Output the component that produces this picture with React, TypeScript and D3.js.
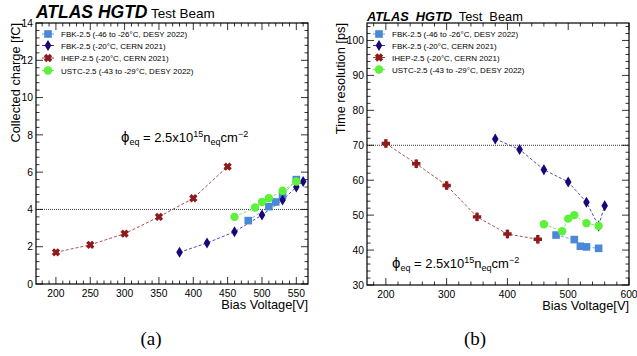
import React from "react";
import * as d3 from "d3";

// bias voltage [V] per sensor
const voltFbkDesy = [480, 510, 520, 530, 550];
const voltFbkCern = [380, 420, 460, 500, 530, 550, 560];
const voltIhep = [200, 250, 300, 350, 400, 450];
const voltUstc = [460, 490, 500, 510, 530, 550];

// collected charge [fC]
const chargeFbkDesy = [3.4, 4.15, 4.4, 4.75, 5.6];
const chargeFbkCern = [1.7, 2.2, 2.8, 3.7, 4.5, 5.2, 5.5];
const chargeIhep = [1.7, 2.1, 2.7, 3.6, 4.6, 6.3];
const chargeUstc = [3.6, 4.1, 4.4, 4.6, 5.0, 5.5];

// time resolution [ps]
const timeFbkDesy = [44.3, 43.0, 41.1, 40.9, 40.5];
const timeFbkCern = [71.8, 68.8, 63.0, 59.5, 53.7, 46.9, 52.7];
const timeIhep = [70.5, 64.7, 58.5, 49.5, 44.6, 43.1];
const timeUstc = [47.4, 45.4, 49.0, 50.0, 47.7, 46.9];
const timeErrFbkCern = [1.3, 1.3, 1.3, 1.2, 1.3, 1.5, 1.4];
const timeErrIhep = [1.3, 1.3, 1.3, 1.3, 1.3, 1.3];

const legendLabels = [
  "FBK-2.5 (-46 to -26\u00b0C, DESY 2022)",
  "FBK-2.5 (-20\u00b0C, CERN 2021)",
  "IHEP-2.5 (-20\u00b0C, CERN 2021)",
  "USTC-2.5 (-43 to -29\u00b0C, DESY 2022)",
];

const xTicksA = [200, 250, 300, 350, 400, 450, 500, 550];
const yTicksA = [0, 2, 4, 6, 8, 10, 12, 14];
const xTicksB = [200, 300, 400, 500, 600];
const yTicksB = [30, 40, 50, 60, 70, 80, 90, 100];

const colors = ["#4a88d8", "#16087a", "#8e1b1b", "#5cf23a"];
const lineColors = ["#6b9be0", "#3a34a0", "#a83a3a", "#6ee850"];
const shapes = ["square", "diamond", "x", "circle"];

const font = "Liberation Sans, Arial, sans-serif";

function Marker({ shape, x, y, color, cross }: any) {
  if (shape === "square")
    return <rect x={x - 3.8} y={y - 3.8} width={7.6} height={7.6} fill={color} />;
  if (shape === "diamond")
    return <path d={`M${x},${y - 5.5}L${x + 3.3},${y}L${x},${y + 5.5}L${x - 3.3},${y}Z`} fill={color} />;
  if (shape === "circle") return <circle cx={x} cy={y} r={4.2} fill={color} />;
  // thick cross
  const a = 4.2, b = 1.7;
  const p = `M${-b},${-a}H${b}V${-b}H${a}V${b}H${b}V${a}H${-b}V${b}H${-a}V${-b}H${-b}Z`;
  return <path d={p} fill={color} transform={`translate(${x},${y}) rotate(${cross ? 0 : 45})`} />;
}

function Panel({ box, xDom, yDom, xTicks, yTicks, xMinor, yMinor, series, refLine, yTitle, titleDx, plusIhep }: any) {
  const x = d3.scaleLinear().domain(xDom).range([box.x0, box.x1]);
  const y = d3.scaleLinear().domain(yDom).range([box.y1, box.y0]);
  const minorX = d3.range(Math.ceil(xDom[0] / xMinor) * xMinor, xDom[1] + 0.001, xMinor);
  const minorY = d3.range(yDom[0], yDom[1] + 0.001, yMinor);
  const line = d3.line<[number, number]>().x((d) => x(d[0])).y((d) => y(d[1]));
  return (
    <g fontFamily={font}>
      <rect x={box.x0} y={box.y0} width={box.x1 - box.x0} height={box.y1 - box.y0} fill="none" stroke="#000" strokeWidth={1.2} />
      {minorX.map((v: number) => {
        const major = xTicks.includes(v);
        const l = major ? 7 : 3.5;
        return (
          <g key={"mx" + v} stroke="#000" strokeWidth={0.8}>
            <line x1={x(v)} x2={x(v)} y1={box.y1} y2={box.y1 - l} />
            <line x1={x(v)} x2={x(v)} y1={box.y0} y2={box.y0 + l} />
          </g>
        );
      })}
      {minorY.map((v: number) => {
        const major = yTicks.some((t: number) => Math.abs(t - v) < 1e-6);
        const l = major ? 7 : 3.5;
        return (
          <g key={"my" + v} stroke="#000" strokeWidth={0.8}>
            <line x1={box.x0} x2={box.x0 + l} y1={y(v)} y2={y(v)} />
            <line x1={box.x1} x2={box.x1 - l} y1={y(v)} y2={y(v)} />
          </g>
        );
      })}
      {xTicks.map((v: number) => (
        <text key={"xt" + v} x={x(v)} y={box.y1 + 12.5} fontSize={10.3} textAnchor="middle">{v}</text>
      ))}
      {yTicks.map((v: number) => (
        <text key={"yt" + v} x={box.x0 - 3} y={y(v) + 3.7} fontSize={10.3} textAnchor="end">{v}</text>
      ))}
      <text x={box.x1} y={box.y1 + 25} fontSize={12.8} textAnchor="end">Bias Voltage[V]</text>
      <text transform={`translate(${box.x0 - titleDx},${box.y0}) rotate(-90)`} fontSize={12.8} textAnchor="end">{yTitle}</text>
      <line x1={box.x0} x2={box.x1} y1={y(refLine)} y2={y(refLine)} stroke="#000" strokeWidth={0.8} strokeDasharray="1,1" />
      {series.map((s: any, i: number) => (
        <path key={"l" + i} d={line(s.xs.map((v: number, j: number) => [v, s.ys[j]]))!} fill="none" stroke={lineColors[i]} strokeWidth={0.9} strokeDasharray="3,2" />
      ))}
      {series.map((s: any, i: number) =>
        s.xs.map((v: number, j: number) => (
          <g key={"m" + i + "-" + j}>
            {s.err && (
              <line x1={x(v)} x2={x(v)} y1={y(s.ys[j] - s.err[j])} y2={y(s.ys[j] + s.err[j])} stroke={colors[i]} strokeWidth={1} opacity={0.7} />
            )}
            <Marker shape={shapes[i]} x={x(v)} y={y(s.ys[j])} color={colors[i]} cross={plusIhep} />
          </g>
        ))
      )}
    </g>
  );
}

function Legend({ x0, ys }: any) {
  return (
    <g fontFamily={font} fontSize={8}>
      {legendLabels.map((t, i) => (
        <g key={t}>
          <line x1={x0 - 6} x2={x0 + 6} y1={ys[i]} y2={ys[i]} stroke={lineColors[i]} strokeWidth={1} />
          <Marker shape={shapes[i]} x={x0} y={ys[i]} color={colors[i]} />
          <text x={x0 + 13} y={ys[i] + 3}>{t}</text>
        </g>
      ))}
    </g>
  );
}

function Phi({ x, y }: any) {
  return (
    <text x={x} y={y} fontFamily={font} fontSize={13}>
      <tspan fontSize={15}>{"\u03d5"}</tspan>
      <tspan fontSize={9} dy={3}>eq</tspan>
      <tspan dy={-3}>{" = 2.5x10"}</tspan>
      <tspan fontSize={9} dy={-5}>15</tspan>
      <tspan dy={5}>n</tspan>
      <tspan fontSize={9} dy={3}>eq</tspan>
      <tspan dy={-3}>cm</tspan>
      <tspan fontSize={9} dy={-5}>{"\u22122"}</tspan>
    </text>
  );
}

export default function App() {
  const seriesA = [
    { xs: voltFbkDesy, ys: chargeFbkDesy },
    { xs: voltFbkCern, ys: chargeFbkCern },
    { xs: voltIhep, ys: chargeIhep },
    { xs: voltUstc, ys: chargeUstc },
  ];
  const seriesB = [
    { xs: voltFbkDesy, ys: timeFbkDesy },
    { xs: voltFbkCern, ys: timeFbkCern, err: timeErrFbkCern },
    { xs: voltIhep, ys: timeIhep, err: timeErrIhep },
    { xs: voltUstc, ys: timeUstc },
  ];
  return (
    <svg width={637} height={356} style={{ position: "absolute", left: 0, top: 0 }}>
      <rect width={637} height={356} fill="#fff" />
      <text x={36} y={18} fontFamily={font}>
        <tspan fontSize={17.5} fontWeight="bold" fontStyle="italic">ATLAS HGTD</tspan>
        <tspan fontSize={13.5}>{" Test Beam"}</tspan>
      </text>
      <text x={367} y={20.5} fontFamily={font} fontSize={12.8} wordSpacing={3.5}>
        <tspan fontWeight="bold" fontStyle="italic">ATLAS HGTD</tspan>
        <tspan>{" Test Beam"}</tspan>
      </text>
      <Panel
        box={{ x0: 36, x1: 308, y0: 23, y1: 284 }}
        xDom={[171, 567]}
        yDom={[0, 14]}
        xTicks={xTicksA}
        yTicks={yTicksA}
        xMinor={10}
        yMinor={0.4}
        series={seriesA}
        refLine={4}
        yTitle="Collected charge [fC]"
        titleDx={16}
      />
      <Panel
        box={{ x0: 367, x1: 629, y0: 23, y1: 285 }}
        xDom={[169, 600]}
        yDom={[30, 105]}
        xTicks={xTicksB}
        yTicks={yTicksB}
        xMinor={20}
        yMinor={2}
        series={seriesB}
        refLine={70}
        yTitle="Time resolution [ps]"
        titleDx={22}
        plusIhep
      />
      <Legend x0={48} ys={[34, 45.5, 58, 70.5]} />
      <Legend x0={379} ys={[34, 45.5, 57.5, 69.5]} />
      <Phi x={121} y={142} />
      <Phi x={392} y={268} />
      <text x={151} y={345} fontFamily="Liberation Serif, serif" fontSize={19} textAnchor="middle">(a)</text>
      <text x={475} y={345} fontFamily="Liberation Serif, serif" fontSize={19} textAnchor="middle">(b)</text>
    </svg>
  );
}
